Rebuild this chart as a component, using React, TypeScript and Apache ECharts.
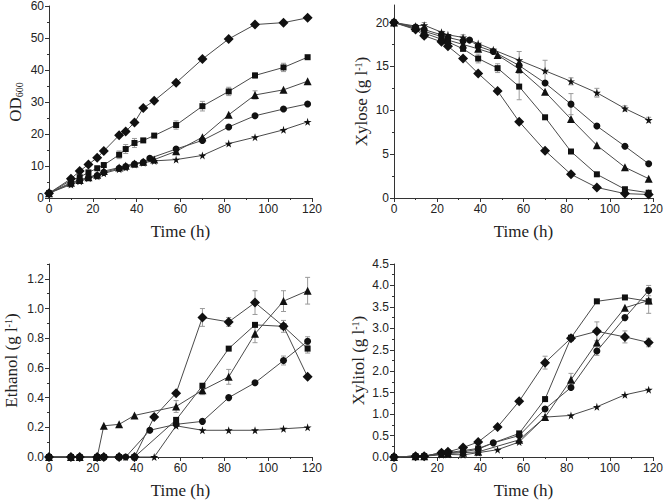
import React, { useEffect, useRef } from 'react';
import * as echarts from 'echarts';

// ---------- DATA ----------
const xTicks = [0, 20, 40, 60, 80, 100, 120];

// OD600
const tOD = [0, 10, 14, 18, 22, 25, 32, 35, 39, 43, 48, 58, 70, 82, 94, 107, 118];
const tODCircle = [0, 10, 14, 18, 22, 25, 32, 35, 39, 43, 46, 58, 70, 82, 94, 107, 118];
const odDiamond = [1.5, 6, 8.4, 10.5, 12.6, 14.7, 19.6, 20.8, 23.6, 28.1, 30.4, 36, 43.4, 49.7, 54.2, 54.8, 56.3];
const odSquare = [1.5, 5.5, 6.5, 8, 9.3, 10.3, 13.5, 15.3, 17.2, 18, 19.5, 22.8, 28.7, 33.3, 38.3, 40.8, 44];
const odTriangle = [1.5, 4.8, 5.6, 6.5, 7.3, 8.4, 9.5, 10.1, 10.8, 11.3, 12, 14.6, 19, 26, 32.2, 33.8, 36.5];
const odCircle = [1.5, 4.5, 5.5, 6.4, 7, 8, 9.3, 9.8, 10.6, 11.2, 12.4, 15.3, 18, 22.2, 25.7, 27.8, 29.4];
const odStar = [1.5, 4.2, 5.2, 6.2, 6.8, 7.7, 9, 9.5, 10.5, 11, 11.6, 12, 13.3, 17, 19, 21.3, 23.8];
const odErr = [
  [32, 13.5, 1.2], [35, 15.3, 1.4], [39, 17.2, 1.4], [58, 22.8, 1.3], [70, 28.7, 1.5],
  [82, 33.3, 1.3], [107, 40.8, 1.3], [94, 32.2, 1.3], [94, 38.3, 0.8],
];

// Xylose
const tXy = [0, 10, 14, 22, 25, 32, 39, 48, 58, 70, 82, 94, 107, 118];
const tXyCircle = [0, 10, 14, 22, 25, 32, 35, 39, 46, 58, 70, 82, 94, 107, 118];
const tXyStar = [0, 10, 14, 22, 25, 32, 39, 46, 58, 70, 82, 94, 107, 118];
const xyDiamond = [20, 19.2, 18.5, 17.8, 17.3, 15.9, 14.2, 12.2, 8.7, 5.4, 2.7, 1.2, 0.5, 0.4];
const xySquare = [20, 19.3, 18.8, 18.1, 17.8, 17.0, 15.9, 14.8, 12.7, 9.2, 5.3, 2.7, 1.0, 0.6];
const xyTriangle = [20, 19.4, 19.0, 18.4, 18.0, 17.5, 17.0, 16.3, 14.7, 12.1, 9.0, 6.0, 3.5, 2.2];
const xyCircle = [20, 19.5, 19.2, 18.6, 18.3, 17.9, 18.0, 17.3, 16.7, 15.1, 13.1, 10.7, 8.2, 5.9, 3.9];
const xyStar = [20, 19.6, 19.7, 18.9, 18.6, 18.3, 17.6, 16.9, 15.7, 14.5, 13.3, 12.0, 10.2, 8.9];
const xyErr = [
  [0, 20, 0.3], [14, 18.8, 0.6], [14, 19.6, 0.4], [22, 18.6, 0.4], [32, 18.3, 0.3],
  [39, 15.9, 0.5], [48, 14.8, 0.5], [58, 12.7, 1.5], [58, 15.7, 1.0], [70, 14.5, 1.2],
  [82, 10.7, 1.2], [82, 13.3, 0.4], [94, 12.0, 0.5], [107, 10.2, 0.3], [118, 8.9, 0.3],
];

// Ethanol
const tEtDiamond = [0, 10, 14, 22, 25, 32, 39, 48, 58, 70, 82, 94, 107, 118];
const tEtSquare = [0, 10, 14, 22, 25, 32, 39, 58, 70, 82, 94, 107, 118];
const tEtTriangle = [0, 10, 14, 22, 25, 32, 39, 58, 70, 82, 94, 107, 118];
const tEtCircle = [0, 10, 14, 22, 25, 32, 35, 46, 58, 70, 82, 94, 107, 118];
const tEtStar = [0, 10, 14, 22, 25, 32, 35, 39, 48, 58, 70, 82, 94, 107, 118];
const etDiamond = [0, 0, 0, 0, 0, 0, 0, 0.27, 0.43, 0.94, 0.91, 1.04, 0.88, 0.54];
const etSquare = [0, 0, 0, 0, 0, 0, 0, 0.25, 0.48, 0.73, 0.89, 0.88, 0.73];
const etTriangle = [0, 0, 0, 0, 0.21, 0.22, 0.28, 0.34, 0.45, 0.54, 0.83, 1.05, 1.12];
const etCircle = [0, 0, 0, 0, 0, 0, 0, 0.18, 0.22, 0.24, 0.40, 0.50, 0.65, 0.78];
const etStar = [0, 0, 0, 0, 0, 0, 0, 0, 0, 0.21, 0.18, 0.18, 0.18, 0.19, 0.20];
const etErr = [
  [58, 0.34, 0.04], [70, 0.94, 0.06], [70, 0.45, 0.03], [82, 0.54, 0.05], [82, 0.91, 0.03],
  [94, 1.04, 0.08], [94, 0.83, 0.06], [107, 1.05, 0.07], [107, 0.88, 0.04], [107, 0.65, 0.03],
  [118, 1.12, 0.09], [118, 0.73, 0.03], [118, 0.78, 0.03],
];

// Xylitol
const tXlDiamond = [0, 10, 14, 22, 25, 32, 39, 48, 58, 70, 82, 94, 107, 118];
const tXlSquare = [0, 10, 14, 22, 25, 32, 39, 58, 70, 82, 94, 107, 118];
const tXlTriangle = [0, 10, 14, 22, 25, 32, 39, 58, 70, 82, 94, 107, 118];
const tXlCircle = [0, 10, 14, 22, 25, 32, 39, 46, 58, 70, 82, 94, 107, 118];
const tXlStar = [0, 10, 14, 22, 25, 32, 39, 48, 58, 70, 82, 94, 107, 118];
const xlDiamond = [0, 0.02, 0.02, 0.1, 0.12, 0.22, 0.35, 0.7, 1.3, 2.2, 2.77, 2.93, 2.8, 2.67];
const xlSquare = [0, 0.02, 0.02, 0.08, 0.1, 0.15, 0.2, 0.55, 1.35, 2.78, 3.63, 3.72, 3.63];
const xlTriangle = [0, 0.02, 0.02, 0.07, 0.08, 0.1, 0.12, 0.4, 0.93, 1.8, 2.67, 3.48, 3.65];
const xlCircle = [0, 0.02, 0.02, 0.1, 0.1, 0.12, 0.18, 0.33, 0.5, 1.12, 1.62, 2.47, 3.25, 3.88];
const xlStar = [0, 0.02, 0.02, 0.05, 0.06, 0.05, 0.1, 0.17, 0.35, 0.93, 0.97, 1.17, 1.45, 1.57];
const xlErr = [
  [70, 2.2, 0.15], [82, 1.8, 0.15], [82, 2.77, 0.07], [94, 2.93, 0.22], [94, 2.47, 0.1],
  [107, 2.8, 0.14], [118, 2.67, 0.1], [118, 3.65, 0.3], [118, 3.88, 0.12],
];

// ---------- STYLE ----------
const STAR = 'path://M50,0 L61,35 L98,35 L68,57 L79,91 L50,70 L21,91 L32,57 L2,35 L39,35 Z';
const markers = [
  { symbol: 'diamond', size: 10 },
  { symbol: 'rect', size: 6 },
  { symbol: 'triangle', size: 8 },
  { symbol: 'circle', size: 7 },
  { symbol: STAR, size: 8 },
];

const pairs = (t: number[], v: number[]) => t.map((x, i) => [x, v[i]]);

const App = () => {
  const ref = useRef<HTMLDivElement>(null);
  useEffect(() => {
    if (!ref.current) return;
    const chart = echarts.init(ref.current, null, { renderer: 'svg' });

    const grids = [
      { left: 49, top: 5, width: 263, height: 193 },
      { left: 394, top: 5, width: 262, height: 193 },
      { left: 49, top: 264, width: 263, height: 193 },
      { left: 394, top: 264, width: 262, height: 193 },
    ];

    const labelStyle = { color: '#222', fontSize: 12, fontFamily: 'Liberation Sans, Arial, sans-serif' };
    const nameFont = { fontFamily: 'Liberation Serif, Times New Roman, serif', fontSize: 17, color: '#222' };
    const axisLine = { show: true, onZero: false, lineStyle: { color: '#333', width: 1 } };

    const xAxes = grids.map((_, i) => ({
      type: 'value',
      gridIndex: i,
      min: 0,
      max: 120,
      interval: 20,
      name: 'Time (h)',
      nameLocation: 'middle',
      nameGap: 25,
      nameTextStyle: nameFont,
      axisLine,
      axisTick: { show: true, length: 4, lineStyle: { color: '#333' } },
      minorTick: { show: true, splitNumber: 2, length: 2, lineStyle: { color: '#333' } },
      splitLine: { show: false },
      axisLabel: { ...labelStyle, margin: 5, customValues: xTicks },
    }));

    const rich = {
      a: { ...nameFont },
      sub: { ...nameFont, fontSize: 10, verticalAlign: 'bottom', padding: [6, 0, 0, 0] },
      sup: { ...nameFont, fontSize: 10, verticalAlign: 'top', padding: [0, 0, 6, 0] },
    };

    const yCfg = [
      { max: 60, interval: 10, name: '{a|OD}{sub|600}', gap: 25, fmt: (v: number) => String(v), vals: [0, 10, 20, 30, 40, 50, 60] },
      { max: 22, interval: 5, name: '{a|Xylose (g l}{sup|-1}{a|)}', gap: 24, fmt: (v: number) => String(v), vals: [0, 5, 10, 15, 20] },
      { max: 1.3, interval: 0.2, name: '{a|Ethanol (g l}{sup|-1}{a|)}', gap: 29, fmt: (v: number) => v.toFixed(1), vals: [0, 0.2, 0.4, 0.6, 0.8, 1.0, 1.2] },
      { max: 4.5, interval: 0.5, name: '{a|Xylitol (g l}{sup|-1}{a|)}', gap: 27, fmt: (v: number) => v.toFixed(1), vals: [0, 0.5, 1, 1.5, 2, 2.5, 3, 3.5, 4, 4.5] },
    ];

    const yAxes = yCfg.map((c, i) => ({
      type: 'value',
      gridIndex: i,
      min: 0,
      max: c.max,
      interval: c.interval,
      name: c.name,
      nameLocation: 'middle',
      nameGap: c.gap,
      nameRotate: 90,
      nameTextStyle: { ...nameFont, rich },
      axisLine,
      axisTick: { show: true, length: 4, lineStyle: { color: '#333' }, customValues: c.vals },
      minorTick: { show: true, splitNumber: 2, length: 2, lineStyle: { color: '#333' } },
      splitLine: { show: false },
      axisLabel: { ...labelStyle, margin: 5, formatter: c.fmt, customValues: c.vals },
    }));

    const panels = [
      { sets: [[tOD, odDiamond], [tOD, odSquare], [tOD, odTriangle], [tODCircle, odCircle], [tOD, odStar]], err: odErr },
      { sets: [[tXy, xyDiamond], [tXy, xySquare], [tXy, xyTriangle], [tXyCircle, xyCircle], [tXyStar, xyStar]], err: xyErr },
      { sets: [[tEtDiamond, etDiamond], [tEtSquare, etSquare], [tEtTriangle, etTriangle], [tEtCircle, etCircle], [tEtStar, etStar]], err: etErr },
      { sets: [[tXlDiamond, xlDiamond], [tXlSquare, xlSquare], [tXlTriangle, xlTriangle], [tXlCircle, xlCircle], [tXlStar, xlStar]], err: xlErr },
    ];

    const series: any[] = [];
    panels.forEach((p, pi) => {
      series.push({
        type: 'custom',
        xAxisIndex: pi,
        yAxisIndex: pi,
        data: p.err,
        z: 1,
        silent: true,
        renderItem: (params: any, api: any) => {
          const x = api.value(0), y = api.value(1), e = api.value(2);
          const top = api.coord([x, y + e]);
          const bot = api.coord([x, y - e]);
          const w = 2.5;
          const st = { stroke: '#9a9a9a', lineWidth: 1 };
          return {
            type: 'group',
            children: [
              { type: 'line', shape: { x1: top[0], y1: top[1], x2: bot[0], y2: bot[1] }, style: st },
              { type: 'line', shape: { x1: top[0] - w, y1: top[1], x2: top[0] + w, y2: top[1] }, style: st },
              { type: 'line', shape: { x1: bot[0] - w, y1: bot[1], x2: bot[0] + w, y2: bot[1] }, style: st },
            ],
          };
        },
      });
      p.sets.forEach((s, si) => {
        series.push({
          type: 'line',
          xAxisIndex: pi,
          yAxisIndex: pi,
          data: pairs(s[0] as number[], s[1] as number[]),
          symbol: markers[si].symbol,
          symbolSize: markers[si].size,
          showAllSymbol: true,
          z: 3,
          lineStyle: { color: '#4a4a4a', width: 1 },
          itemStyle: { color: '#111', borderWidth: 0 },
        });
      });
    });

    chart.setOption({
      animation: false,
      backgroundColor: '#fff',
      grid: grids,
      xAxis: xAxes,
      yAxis: yAxes,
      series,
    });
    return () => chart.dispose();
  }, []);

  return <div ref={ref} style={{ position: 'absolute', left: 0, top: 0, width: 666, height: 500 }} />;
};

export default App;
